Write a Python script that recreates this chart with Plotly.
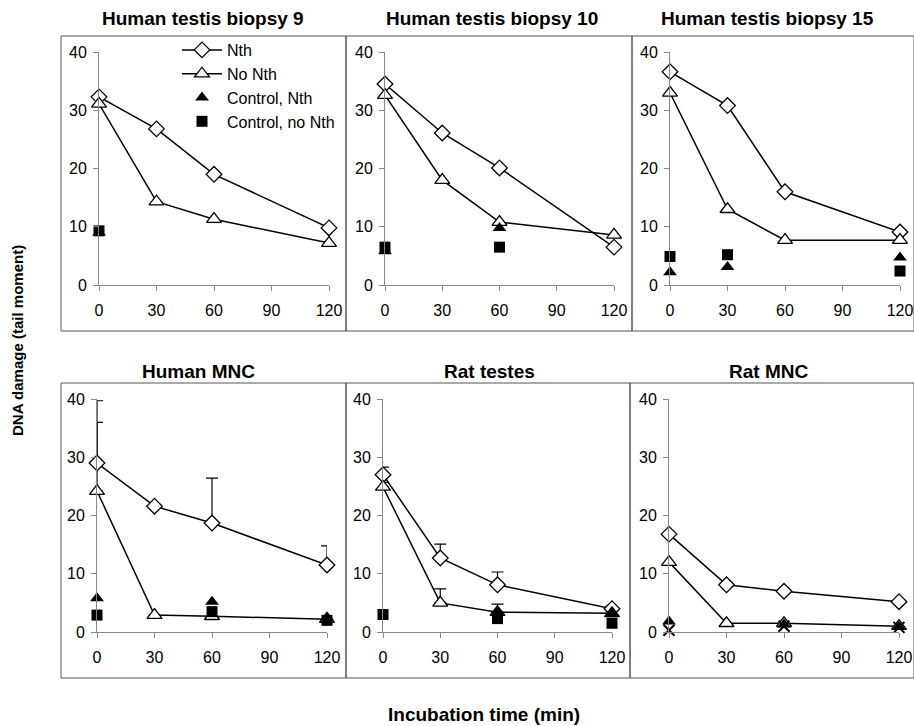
import plotly.graph_objects as go

W, H = 914, 726

times = [0, 30, 60, 120]
x_ticks = [0, 30, 60, 90, 120]
y_ticks = [0, 10, 20, 30, 40]

titles = ["Human testis biopsy 9", "Human testis biopsy 10", "Human testis biopsy 15",
          "Human MNC", "Rat testes", "Rat MNC"]

nth = [
    [32.3, 26.8, 19.0, 9.8],
    [34.5, 26.1, 20.1, 6.5],
    [36.6, 30.8, 16.0, 9.1],
    [29.0, 21.6, 18.7, 11.5],
    [27.0, 12.7, 8.1, 4.0],
    [16.8, 8.1, 7.0, 5.2],
]
no_nth = [
    [31.1, 14.3, 11.3, 7.2],
    [32.6, 18.0, 10.8, 8.6],
    [33.0, 13.0, 7.7, 7.7],
    [24.2, 2.9, 2.7, 2.2],
    [24.9, 5.0, 3.4, 3.2],
    [12.0, 1.5, 1.5, 1.0],
]
ctrl_nth = [
    [9.0, None, None, None],
    [5.8, None, 9.8, None],
    [2.2, 3.1, None, 4.7],
    [5.8, None, 5.2, 2.5],
    [None, None, 3.5, 3.2],
    [1.8, None, 1.3, 0.9],
]
ctrl_no_nth = [
    [9.3, None, None, None],
    [6.5, None, 6.5, None],
    [4.9, 5.2, None, 2.4],
    [2.9, None, 3.5, 2.0],
    [3.0, None, 2.3, 1.5],
    [None, None, None, None],
]
# extra cross-shaped marks visible in the Rat MNC panel
ctrl_cross = [
    [None] * 4, [None] * 4, [None] * 4, [None] * 4, [None] * 4,
    [0.3, None, 1.0, 0.8],
]
# upper error bars (top of bar minus mean)
nth_err = [
    None, None, None,
    [10.7, 0.0, 7.7, 3.3],
    [1.3, 2.4, 2.2, 0.5],
    None,
]
no_nth_err = [
    None, None, None,
    [11.8, 0.0, 0.0, 0.0],
    [0.8, 2.4, 1.4, 1.0],
    None,
]


def fx(px):
    return px / W


def fy(py):
    return 1 - py / H


# plot-area pixel geometry: (x of 0, x of 120, y of 40, y of 0)
areas = [
    (99, 329, 52, 285), (385, 614, 52, 285), (670, 900, 52, 285),
    (97, 327, 399, 632), (383, 612, 399, 632), (669, 899, 399, 632),
]
boxes = [
    (61, 346, 36, 331), (346, 632, 36, 331), (632, 914, 36, 331),
    (61, 346, 383, 678), (346, 630, 383, 678), (630, 914, 383, 678),
]
title_pos = [(203, 18), (492, 18), (767, 18), (198, 371), (489, 371), (768, 371)]

FONT = "Liberation Sans, Arial, sans-serif"
fig = go.Figure()
layout = dict(
    width=W, height=H, margin=dict(l=0, r=0, t=0, b=0, autoexpand=False),
    paper_bgcolor="white", plot_bgcolor="rgba(0,0,0,0)",
    font=dict(family=FONT, color="black", size=16),
    showlegend=True,
    legend=dict(x=fx(177), y=fy(33), xanchor="left", yanchor="top",
                bgcolor="rgba(0,0,0,0)", font=dict(size=16, family=FONT),
                itemwidth=40, tracegroupgap=0),
    shapes=[], annotations=[],
)

for i in range(6):
    xa = "x" if i == 0 else f"x{i+1}"
    ya = "y" if i == 0 else f"y{i+1}"
    xkey = "xaxis" if i == 0 else f"xaxis{i+1}"
    ykey = "yaxis" if i == 0 else f"yaxis{i+1}"
    x0, x1, y1, y0 = areas[i]
    layout[xkey] = dict(domain=[fx(x0), fx(x1)], anchor=ya, range=[0, 120],
                        tickvals=x_ticks, ticks="outside", ticklen=5, tickcolor="#888",
                        showline=True, linecolor="#888", linewidth=1, showgrid=False,
                        zeroline=False, ticklabelstandoff=6, automargin=False,
                        tickfont=dict(size=16, family=FONT))
    layout[ykey] = dict(domain=[fy(y0), fy(y1)], anchor=xa, range=[0, 40],
                        tickvals=y_ticks, ticks="outside", ticklen=5, tickcolor="#888",
                        showline=True, linecolor="#888", linewidth=1, showgrid=False,
                        zeroline=False, ticklabelstandoff=3, automargin=False,
                        tickfont=dict(size=16, family=FONT))
    bx0, bx1, by0, by1 = boxes[i]
    layout["shapes"].append(dict(type="rect", xref="paper", yref="paper",
                                 x0=fx(bx0), x1=fx(bx1), y0=fy(by1), y1=fy(by0),
                                 line=dict(color="#555", width=1)))
    tx, ty = title_pos[i]
    layout["annotations"].append(dict(text=f"<b>{titles[i]}</b>", xref="paper", yref="paper",
                                      x=fx(tx), y=fy(ty), showarrow=False,
                                      xanchor="center", yanchor="middle",
                                      font=dict(size=19, family=FONT)))

    leg = (i == 0)
    for vals, err in ((nth[i], nth_err[i]), (no_nth[i], no_nth_err[i])):
        if err is None:
            continue
        fig.add_trace(go.Scatter(
            x=times, y=vals, mode="markers", xaxis=xa, yaxis=ya, showlegend=False,
            marker=dict(size=1, opacity=0), hoverinfo="skip", cliponaxis=False,
            error_y=dict(type="data", symmetric=False, array=err,
                         arrayminus=[0] * len(err), color="black", thickness=1.2, width=6)))
    fig.add_trace(go.Scatter(
        x=times, y=nth[i], name="Nth", mode="lines+markers", xaxis=xa, yaxis=ya,
        showlegend=leg, cliponaxis=False, line=dict(color="black", width=1.5),
        marker=dict(symbol="diamond", size=12, color="white",
                    line=dict(color="black", width=1.3))))
    fig.add_trace(go.Scatter(
        x=times, y=no_nth[i], name="No Nth", mode="lines+markers", xaxis=xa, yaxis=ya,
        showlegend=leg, cliponaxis=False, line=dict(color="black", width=1.5),
        marker=dict(symbol="triangle-up", size=13, color="white",
                    line=dict(color="black", width=1.3))))
    fig.add_trace(go.Scatter(
        x=times, y=ctrl_nth[i], name="Control, Nth", mode="markers", xaxis=xa, yaxis=ya,
        showlegend=leg, cliponaxis=False,
        marker=dict(symbol="triangle-up", size=12, color="black")))
    fig.add_trace(go.Scatter(
        x=times, y=ctrl_no_nth[i], name="Control, no Nth", mode="markers", xaxis=xa, yaxis=ya,
        showlegend=leg, cliponaxis=False,
        marker=dict(symbol="square", size=11, color="black")))
    if any(v is not None for v in ctrl_cross[i]):
        fig.add_trace(go.Scatter(
            x=times, y=ctrl_cross[i], mode="markers", xaxis=xa, yaxis=ya,
            showlegend=False, cliponaxis=False,
            marker=dict(symbol="x-thin-open", size=11, color="black",
                        line=dict(color="black", width=2))))

layout["annotations"].append(dict(text="<b>DNA damage (tail moment)</b>", xref="paper", yref="paper",
                                  x=fx(17), y=fy(341), showarrow=False, textangle=-90,
                                  xanchor="center", yanchor="middle",
                                  font=dict(size=15, family=FONT)))
layout["annotations"].append(dict(text="<b>Incubation time (min)</b>", xref="paper", yref="paper",
                                  x=fx(484), y=fy(714), showarrow=False,
                                  xanchor="center", yanchor="middle",
                                  font=dict(size=19, family=FONT)))

fig.update_layout(**layout)
fig.write_html("out.html", config={"displayModeBar": False},
               post_script="document.body.style.margin='0';document.body.style.overflow='hidden';")
